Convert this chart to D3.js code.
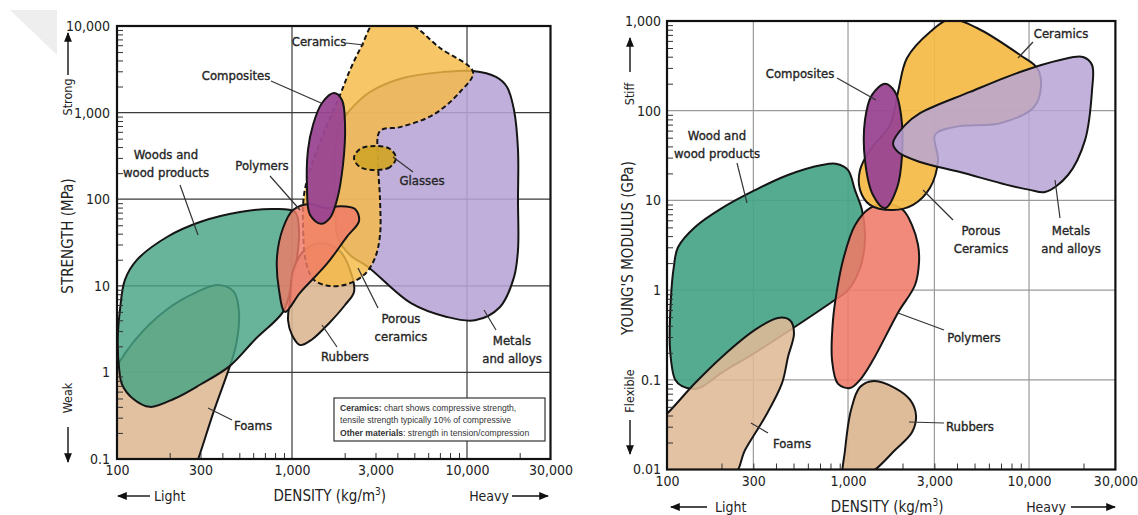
<!DOCTYPE html>
<html>
<head>
<meta charset="utf-8">
<script src="https://cdn.jsdelivr.net/npm/d3@7"></script>
<style>
    body { margin: 0; background: #fff; }
    svg text { font-family: "DejaVu Sans Condensed", "Liberation Sans Narrow", "Roboto Condensed", sans-serif; font-stretch: condensed; fill: #222; }
    svg text.note { font-family: "Liberation Sans", Arial, sans-serif; font-stretch: normal; font-size: 8.6px; fill: #333; }
</style>
</head>
<body>
<svg id="draw" width="1138" height="515"></svg>
<script>
// ---- ticks ----
var densityTicks = [100, 300, 1000, 3000, 10000, 30000];
var densityLabels = ["100", "300", "1,000", "3,000", "10,000", "30,000"];
var strengthTicks = [0.1, 1, 10, 100, 1000, 10000];
var strengthLabels = ["0.1", "1", "10", "100", "1,000", "10,000"];
var modulusTicks = [0.01, 0.1, 1, 10, 100, 1000];
var modulusLabels = ["0.01", "0.1", "1", "10", "100", "1,000"];

// ---- strength vs density, [density kg/m3, strength MPa] ----
var strengthFoams = [[96,1.0],[127,2.37],[191,5.26],[287,8.5],[378,10.2],[466,8.5],[498,4.85],[479,2.07],[442,1.19],[358,0.36],[287,0.092],[261,0.057],[85,0.057],[85,0.48]];
var strengthWoods = [[104,5.3],[111,11.7],[130,19.9],[193,36.6],[298,54.5],[505,71],[779,77],[1040,71],[1096,44],[1054,17.4],[974,8.5],[889,5],[615,2.4],[442,1.19],[298,0.72],[214,0.5],[154,0.4],[123,0.5],[107,0.72],[103,1.07],[101,2.4]];
var strengthRubbers = [[974,6.9],[1013,15],[1187,26],[1484,31],[1881,25],[2202,13],[2261,8.5],[2009,6],[1649,3.8],[1301,2.4],[1111,2.07],[1000,2.7],[949,4]];
var strengthMetals = [[10822,3020],[14643,2580],[16928,1975],[18562,1070],[19561,370],[19561,98],[19561,26],[18562,12.6],[15439,5.7],[11109,4.0],[7586,4.4],[4786,6.3],[2719,16.5],[2145,22.7],[1832,35.6],[1761,98],[1761,390],[1881,720],[2145,1070],[2790,1730],[4309,2510],[7293,2940]];
var strengthCeramics = [[2981,11000],[4541,11000],[7009,5570],[10822,2940],[9120,1730],[6392,940],[4141,680],[3184,613],[3100,284],[3184,98],[3184,38.6],[2981,21],[2613,13.7],[2089,10.5],[1649,9.95],[1335,11.7],[1202,18.8],[1156,50],[1171,112],[1267,217],[1544,630],[1881,1600],[2145,3100],[2512,6000]];
var strengthPolymers = [[1013,75],[1267,88],[1564,79],[1881,83],[2291,77],[2415,56],[2062,37],[1585,18],[1111,8.3],[912,5],[843,8.9],[821,21.5],[889,46.5]];
var strengthComposites = [[1738,1680],[1930,1400],[2009,720],[1956,250],[1807,98],[1649,61],[1464,52],[1267,66],[1218,135],[1234,370],[1318,720],[1484,1290]];
var strengthGlasses = [[3929,299],[3631,235],[2981,217],[2447,235],[2261,299],[2447,380],[2981,412],[3631,380]];

// ---- modulus vs density, [density kg/m3, modulus GPa] ----
var modulusWoods = [[115,3.0],[143,5.05],[201,8.2],[306,13],[466,19.2],[718,24.8],[869,25.5],[1000,21.8],[1093,13],[1195,7.8],[1241,3.6],[1165,1.76],[1000,1.0],[848,0.78],[510,0.39],[306,0.2],[201,0.12],[158,0.085],[143,0.079],[121,0.085],[111,0.1],[104,0.215],[105,0.78],[109,1.8]];
var modulusFoams = [[91,0.0356],[101,0.0427],[143,0.092],[201,0.18],[306,0.36],[410,0.49],[478,0.46],[503,0.33],[466,0.18],[432,0.092],[348,0.0385],[270,0.0165],[232,0.0087],[91,0.0087]];
var modulusPolymers = [[1663,9.1],[2013,7.8],[2257,5.3],[2436,3.2],[2468,2.06],[2345,1.14],[1889,0.56],[1374,0.166],[1165,0.1],[1026,0.081],[881,0.09],[816,0.166],[826,0.46],[869,1.0],[939,2.17],[1093,5.3],[1322,8.2]];
var modulusRubbers = [[1392,0.097],[1819,0.081],[2200,0.06],[2375,0.04],[2257,0.026],[1819,0.0165],[1357,0.0094],[1026,0.0076],[939,0.0076],[963,0.0165],[1039,0.046],[1165,0.083]];
var modulusCeramics = [[3660,1050],[5160,836],[8919,418],[11072,300],[11650,193],[10657,110],[7003,73],[3901,66],[3025,54],[3143,28],[2838,13.8],[2287,8.9],[1773,7.8],[1322,8.9],[1165,13.1],[1165,21.8],[1322,36.5],[1706,69],[1889,162],[2118,387],[2838,754]];
var modulusComposites = [[1601,200],[1819,162],[1963,90],[1988,32],[1865,13.8],[1601,8.2],[1374,11.5],[1241,28],[1241,79],[1357,150]];
var modulusMetals = [[1773,43.6],[2064,69],[2499,94],[4721,162],[8919,270],[14838,368],[19880,397],[22290,323],[22290,170],[20391,47],[16425,19.2],[12260,12.4],[10127,13.1],[7557,14.9],[4156,20.7],[2499,26.8],[1889,34.6]];

// 颜色
var colWood = "#45a485", colFoam = "#dfba97", colRubber = "#dcb793", colPoly = "#ef7a68";
var colCeram = "#f5ba45", colGlass = "#d2a42a", colComp = "#9a4592", colMetal = "#b7a4d5";

var svg = d3.select("#draw");

// 箭头
svg.append("defs").append("marker")
    .attr("id", "arrow")
    .attr("viewBox", "0 0 10 10")
    .attr("refX", 9).attr("refY", 5)
    .attr("markerWidth", 7).attr("markerHeight", 7)
    .attr("orient", "auto-start-reverse")
    .append("path").attr("d", "M0,1 L10,5 L0,9 Z").attr("fill", "#111");

// 水印
svg.append("path").attr("d", "M10,10 L57,10 L57,55 Z").attr("fill", "#eeeeee");

var leftChart = {
    id: "s", left: 117, right: 550.5, top: 26, bottom: 459,
    yDomain: [0.1, 10000], yTicks: strengthTicks, yLabels: strengthLabels,
    xGrid: [1000, 10000], gridColor: "#3a3a3a",
    yTitle: "STRENGTH (MPa)", yTitleX: 68, yTitleY: 236,
    upWord: "Strong", upY: 97, upArrow: [75, 33], downWord: "Weak", downY: 398, downArrow: [427, 462], sideX: 68,
    tickLabelX: 110, xLabelY: 475, xTitleY: 501, lightX: [118, 150, 154], heavyX: [509, 512, 548],
    blobs: [
        {pts: strengthFoams, fill: colFoam, op: 0.9},
        {pts: strengthWoods, fill: colWood, op: 0.82},
        {pts: strengthRubbers, fill: colRubber, op: 0.9},
        {pts: strengthMetals, fill: colMetal, op: 0.88},
        {pts: strengthCeramics, fill: colCeram, op: 0.82, dash: true},
        {pts: strengthPolymers, fill: colPoly, op: 0.82},
        {pts: strengthComposites, fill: colComp, op: 0.95},
        {pts: strengthGlasses, fill: colGlass, op: 0.95, dash: true}
    ],
    labels: [
        {t: ["Ceramics"], x: 319, y: 45.5, lead: [[346,43],[364,45]]},
        {t: ["Composites"], x: 236, y: 79.5, lead: [[271,81],[321,103]]},
        {t: ["Woods and", "wood products"], x: 166, y: 158.5, lead: [[180,185],[198,235]]},
        {t: ["Polymers"], x: 262, y: 169.5, lead: [[270,176],[300,210]]},
        {t: ["Glasses"], x: 422, y: 184.5, lead: [[393,157],[413,172]]},
        {t: ["Porous", "ceramics"], x: 401, y: 322.5, lead: [[358,268],[378,308]]},
        {t: ["Rubbers"], x: 345, y: 361, lead: [[322,325],[337,347]]},
        {t: ["Metals", "and alloys"], x: 512, y: 344.5, lead: [[484,310],[496,330]]},
        {t: ["Foams"], x: 253, y: 429.5, lead: [[208,408],[232,420]]}
    ]
};

var rightChart = {
    id: "m", left: 667, right: 1115.4, top: 21, bottom: 469.5,
    yDomain: [0.01, 1000], yTicks: modulusTicks, yLabels: modulusLabels,
    xGrid: [300, 1000, 3000, 10000], gridColor: "#9a9a9a",
    yTitle: "YOUNG'S MODULUS (GPa)", yTitleX: 628, yTitleY: 248,
    upWord: "Stiff", upY: 94, upArrow: [72, 38], downWord: "Flexible", downY: 391, downArrow: [420, 454], sideX: 630,
    tickLabelX: 661, xLabelY: 486, xTitleY: 512, lightX: [671, 707, 715], heavyX: [1066, 1071, 1115],
    blobs: [
        {pts: modulusWoods, fill: colWood, op: 0.92},
        {pts: modulusFoams, fill: colFoam, op: 0.88},
        {pts: modulusPolymers, fill: colPoly, op: 0.88},
        {pts: modulusRubbers, fill: colRubber, op: 0.95},
        {pts: modulusCeramics, fill: colCeram, op: 0.92},
        {pts: modulusComposites, fill: colComp, op: 0.95},
        {pts: modulusMetals, fill: colMetal, op: 0.85}
    ],
    labels: [
        {t: ["Ceramics"], x: 1061, y: 37.5, lead: [[1033,42],[1018,58]]},
        {t: ["Composites"], x: 800, y: 77.5, lead: [[837,78],[876,100]]},
        {t: ["Wood and", "wood products"], x: 717, y: 139.5, lead: [[737,163],[747,203]]},
        {t: ["Porous", "Ceramics"], x: 981, y: 234.5, lead: [[923,190],[953,220]]},
        {t: ["Metals", "and alloys"], x: 1071, y: 234.5, lead: [[1055,180],[1060,218]]},
        {t: ["Polymers"], x: 974, y: 341.5, lead: [[898,313],[944,330]]},
        {t: ["Rubbers"], x: 970, y: 430.5, lead: [[909,422],[944,423]]},
        {t: ["Foams"], x: 792, y: 447.5, lead: [[751,423],[768,433]]}
    ]
};

draw_chart(leftChart);
draw_chart(rightChart);

// 说明框
var note = svg.append("g");
note.append("rect").attr("x", 334).attr("y", 398).attr("width", 211).attr("height", 43)
    .attr("fill", "#fff").attr("stroke", "#333").attr("stroke-width", 1.2);
var n1 = note.append("text").attr("class", "note").attr("x", 340).attr("y", 411);
n1.append("tspan").attr("font-weight", "bold").text("Ceramics:");
n1.append("tspan").text(" chart shows compressive strength,");
note.append("text").attr("class", "note").attr("x", 340).attr("y", 423).text("tensile strength typically 10% of compressive");
var n3 = note.append("text").attr("class", "note").attr("x", 340).attr("y", 435.5);
n3.append("tspan").attr("font-weight", "bold").text("Other materials");
n3.append("tspan").text(": strength in tension/compression");

function draw_chart(c) {
    var x = d3.scaleLog().domain([100, 30000]).range([c.left, c.right]);
    var y = d3.scaleLog().domain(c.yDomain).range([c.bottom, c.top]);
    var g = svg.append("g");

    svg.select("defs").append("clipPath").attr("id", "clip-" + c.id)
        .append("rect")
        .attr("x", c.left).attr("y", c.top)
        .attr("width", c.right - c.left).attr("height", c.bottom - c.top);

    //网格
    g.selectAll(".vg").data(c.xGrid).enter().append("line")
        .attr("x1", function(d) { return x(d); }).attr("x2", function(d) { return x(d); })
        .attr("y1", c.top).attr("y2", c.bottom)
        .attr("stroke", c.gridColor).attr("stroke-width", 1.2);
    g.selectAll(".hg").data(c.yTicks.slice(1, -1)).enter().append("line")
        .attr("y1", function(d) { return y(d); }).attr("y2", function(d) { return y(d); })
        .attr("x1", c.left).attr("x2", c.right)
        .attr("stroke", c.gridColor).attr("stroke-width", 1.2);

    //材料区域
    var line = d3.line()
        .x(function(d) { return x(d[0]); })
        .y(function(d) { return y(d[1]); })
        .curve(d3.curveCatmullRomClosed.alpha(0.5));
    g.append("g").attr("clip-path", "url(#clip-" + c.id + ")")
        .selectAll("path").data(c.blobs).enter().append("path")
        .attr("d", function(d) { return line(d.pts); })
        .attr("fill", function(d) { return d.fill; })
        .attr("fill-opacity", function(d) { return d.op; })
        .attr("stroke", "#151515")
        .attr("stroke-width", 2)
        .attr("stroke-linejoin", "round")
        .attr("stroke-dasharray", function(d) { return d.dash ? "5,3" : null; });

    //次刻度
    var minorX = [], minorY = [];
    [100, 1000, 10000].forEach(function(b) {
        for (var k = 2; k <= 9; k++) if (b * k < 30000) minorX.push(b * k);
    });
    c.yTicks.slice(0, -1).forEach(function(b) {
        for (var k = 2; k <= 9; k++) minorY.push(b * k);
    });
    g.append("g").attr("transform", "translate(0," + c.bottom + ")")
        .call(d3.axisBottom(x).tickValues(minorX).tickSize(-6).tickFormat(""))
        .call(function(a) { a.select(".domain").remove(); a.selectAll("line").attr("stroke", "#333"); });
    g.append("g").attr("transform", "translate(" + c.left + ",0)")
        .call(d3.axisLeft(y).tickValues(minorY).tickSize(-6).tickFormat(""))
        .call(function(a) { a.select(".domain").remove(); a.selectAll("line").attr("stroke", "#333"); });

    //边框
    g.append("rect")
        .attr("x", c.left).attr("y", c.top)
        .attr("width", c.right - c.left).attr("height", c.bottom - c.top)
        .attr("fill", "none").attr("stroke", "#111").attr("stroke-width", 2.2);

    //刻度标签
    g.append("g").attr("transform", "translate(0," + c.bottom + ")")
        .call(d3.axisBottom(x).tickValues(densityTicks).tickSize(0).tickPadding(c.xLabelY - c.bottom - 10)
            .tickFormat(function(d, i) { return densityLabels[i]; }))
        .call(function(a) {
            a.select(".domain").remove();
            a.selectAll("text").attr("font-size", "14px").attr("fill", "#222").attr("font-family", null);
        });
    g.append("g").attr("transform", "translate(" + c.tickLabelX + ",0)")
        .call(d3.axisLeft(y).tickValues(c.yTicks).tickSize(0).tickPadding(0)
            .tickFormat(function(d, i) { return c.yLabels[i]; }))
        .call(function(a) {
            a.select(".domain").remove();
            a.selectAll("text").attr("font-size", "14px").attr("fill", "#222").attr("font-family", null);
        });

    //坐标轴标题
    var mid = (c.left + c.right) / 2;
    var xt = g.append("text").attr("x", mid - 4).attr("y", c.xTitleY)
        .attr("text-anchor", "middle").attr("font-size", "15px");
    xt.append("tspan").text("DENSITY (kg/m");
    xt.append("tspan").attr("dy", -6).attr("font-size", "10px").text("3");
    xt.append("tspan").attr("dy", 6).text(")");

    g.append("line").attr("x1", c.lightX[1]).attr("x2", c.lightX[0])
        .attr("y1", c.xTitleY - 5).attr("y2", c.xTitleY - 5)
        .attr("stroke", "#111").attr("stroke-width", 1.4).attr("marker-end", "url(#arrow)");
    g.append("text").attr("x", c.lightX[2]).attr("y", c.xTitleY).attr("font-size", "14px").text("Light");
    g.append("text").attr("x", c.heavyX[0]).attr("y", c.xTitleY).attr("text-anchor", "end").attr("font-size", "14px").text("Heavy");
    g.append("line").attr("x1", c.heavyX[1]).attr("x2", c.heavyX[2])
        .attr("y1", c.xTitleY - 5).attr("y2", c.xTitleY - 5)
        .attr("stroke", "#111").attr("stroke-width", 1.4).attr("marker-end", "url(#arrow)");

    g.append("text").attr("transform", "translate(" + (c.yTitleX + 5) + "," + c.yTitleY + ") rotate(-90)")
        .attr("text-anchor", "middle").attr("font-size", "15px").text(c.yTitle);
    g.append("text").attr("transform", "translate(" + (c.sideX + 4) + "," + c.upY + ") rotate(-90)")
        .attr("text-anchor", "middle").attr("font-size", "12.5px").text(c.upWord);
    g.append("text").attr("transform", "translate(" + (c.sideX + 4) + "," + c.downY + ") rotate(-90)")
        .attr("text-anchor", "middle").attr("font-size", "12.5px").text(c.downWord);
    g.append("line").attr("x1", c.sideX).attr("x2", c.sideX)
        .attr("y1", c.upArrow[0]).attr("y2", c.upArrow[1])
        .attr("stroke", "#111").attr("stroke-width", 1.4).attr("marker-end", "url(#arrow)");
    g.append("line").attr("x1", c.sideX).attr("x2", c.sideX)
        .attr("y1", c.downArrow[0]).attr("y2", c.downArrow[1])
        .attr("stroke", "#111").attr("stroke-width", 1.4).attr("marker-end", "url(#arrow)");

    //材料标注
    var lab = g.selectAll(".lab").data(c.labels).enter().append("g");
    lab.append("line")
        .attr("x1", function(d) { return d.lead[0][0]; }).attr("y1", function(d) { return d.lead[0][1]; })
        .attr("x2", function(d) { return d.lead[1][0]; }).attr("y2", function(d) { return d.lead[1][1]; })
        .attr("stroke", "#333").attr("stroke-width", 1.2);
    lab.each(function(d) {
        var el = d3.select(this);
        d.t.forEach(function(s, i) {
            el.append("text").attr("x", d.x).attr("y", d.y + i * 18.5)
                .attr("text-anchor", "middle").attr("font-size", "13px")
                .attr("fill", "#2a2a2a").attr("stroke", "#2a2a2a").attr("stroke-width", 0.35)
                .text(s);
        });
    });
}
</script>
</body>
</html>
